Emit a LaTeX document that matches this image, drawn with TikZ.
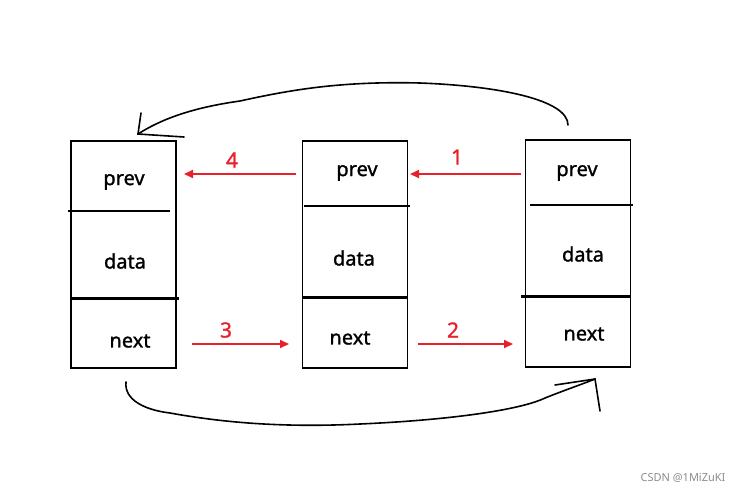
\documentclass[tikz,border=0pt]{standalone}
\usetikzlibrary{arrows.meta}
\usepackage{xcolor}
\usepackage{fontspec}
\setmainfont{Noto Sans}
\newfontfamily\penfont[FakeBold=1.2]{Noto Sans}
\definecolor{penred}{HTML}{E8202A}

\begin{document}
\begin{tikzpicture}[x=1pt, y=-1pt]
 \tikzstyle{box}=[draw, line width=1.7pt, minimum width=105pt, minimum height=227pt,
                  inner sep=0pt]
 \tikzstyle{field}=[font=\penfont\fontsize{20}{20}\selectfont, inner sep=0pt]
 \tikzstyle{num}=[font=\penfont\fontsize{21}{21}\selectfont, text=penred, inner sep=0pt]

        \useasboundingbox (0,0) rectangle (746,493);

        % the three list nodes
        \node[box] (N1) at (123.5,254.5){};
        \node[box] (N2) at (355,254.5){};
        \node[box] (N3) at (578,253.5){};

        \node[field] (P1) at (124,182){prev};
        \node[field] (D1) at (125,261){data};
        \node[field] (X1) at (130,341){next};
        \node[field] (P2) at (357,173){prev};
        \node[field] (D2) at (354,258){data};
        \node[field] (X2) at (350,338){next};
        \node[field] (P3) at (577,173){prev};
        \node[field] (D3) at (583,254){data};
        \node[field] (X3) at (584,334){next};

        % hand drawn dividers
        \draw[line width=2.2pt] (68,211) -- (170,211);
        \draw[line width=2.2pt] (71,298.5) -- (179,298.5);
        \draw[line width=2.2pt] (304,206) -- (410,206);
        \draw[line width=2.2pt] (302,297.5) -- (408,297.5);
        \draw[line width=2.2pt] (530,205) -- (633,205);
        \draw[line width=2.2pt] (521,296.5) -- (631,296.5);

        % red steps
        \coordinate (A4) at (296,174);  \coordinate (B4) at (184,174);
        \coordinate (A1) at (521,174);  \coordinate (B1) at (410,174);
        \coordinate (A3) at (192,344);  \coordinate (B3) at (289,344);
        \coordinate (A2) at (418,344);  \coordinate (B2) at (513,344);

        \path[penred, -{Triangle[length=9pt, width=8pt]}, line width=2pt]
    (A1) edge (B1)
    (A2) edge (B2)
    (A3) edge (B3)
    (A4) edge (B4);

        \node[num] (L1) at (457,157){1};
        \node[num] (L2) at (453,330){2};
        \node[num] (L3) at (226,330){3};
        \node[num] (L4) at (232,160){4};

        % wrap around links (pen strokes)
        \coordinate (T0) at (568,125);
        \coordinate (T1) at (138,134);
        \coordinate (U0) at (126,382);
        \coordinate (U1) at (595,379);

        \draw[line width=1.6pt, line cap=round]
    (T0) .. controls (568,100) and (500,86) .. (420,83)
         .. controls (340,81) and (290,90) .. (240,101)
         .. controls (190,108) and (160,120) .. (T1);
        \draw[line width=1.6pt, line cap=round] (141,113) -- (T1) -- (184,137);

        \draw[line width=1.6pt, line cap=round]
    (U0) .. controls (124,400) and (145,410) .. (170,413)
         .. controls (220,422) and (280,428) .. (360,424)
         .. controls (450,420) and (520,410) .. (545,398)
         .. controls (565,390) and (580,385) .. (U1);
        \draw[line width=1.6pt, line cap=round] (555,385) -- (U1) -- (600,411);

        \node[text=black!45, font=\fontsize{11}{11}\selectfont, inner sep=0pt] (W) at (683,478){CSDN @1MiZuKI};
\end{tikzpicture}
\end{document}
